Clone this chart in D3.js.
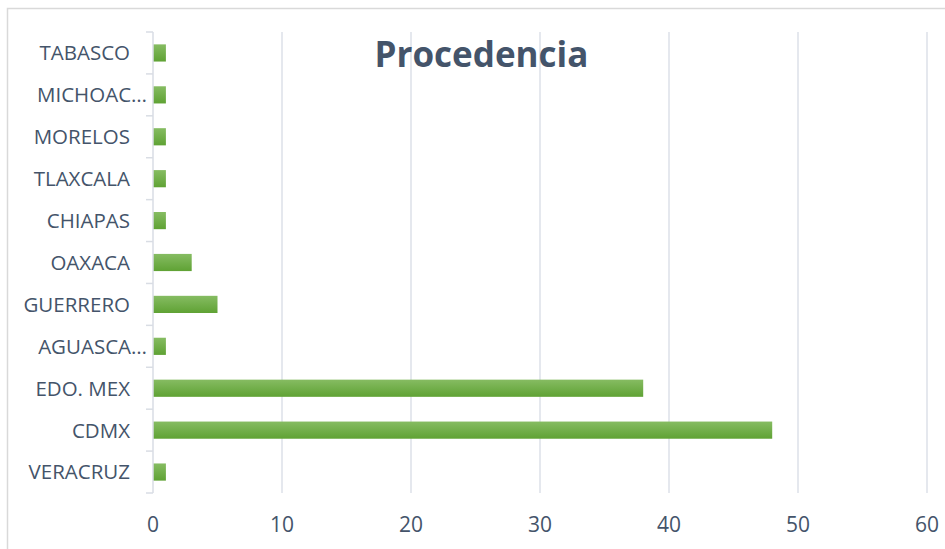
<!DOCTYPE html>
<html><head><meta charset="utf-8">
<script src="https://cdn.jsdelivr.net/npm/d3@7"></script>
<style>body{margin:0;background:#fff}svg{display:block}</style>
</head><body>
<svg id="c" width="945" height="549"></svg>
<script>
const categories = ["TABASCO","MICHOAC…","MORELOS","TLAXCALA","CHIAPAS","OAXACA","GUERRERO","AGUASCA…","EDO. MEX","CDMX","VERACRUZ"];
const values = [1,1,1,1,1,3,5,1,38,48,1];
const xTicks = [0,10,20,30,40,50,60];
const title = "Procedencia";

const svg = d3.select("#c");
const W = 945, H = 549;
const m = {l:153, r:945-927, t:32, b:549-493};
const textColor = "#44546a";
const font = "'Open Sans', sans-serif";

svg.append("rect").attr("x",7.5).attr("y",8.5).attr("width",W).attr("height",H)
  .attr("fill","#fff").attr("stroke","#d9d9d9").attr("stroke-width",1.5);

const defs = svg.append("defs");
const g = defs.append("linearGradient").attr("id","bg").attr("x1",0).attr("y1",0).attr("x2",0).attr("y2",1);
g.append("stop").attr("offset","0%").attr("stop-color","#86bc62");
g.append("stop").attr("offset","100%").attr("stop-color","#5fa234");

const x = d3.scaleLinear().domain([0,60]).range([m.l, W-m.r]);
const y = d3.scaleBand().domain(categories).range([m.t, H-m.b]).paddingInner(0.59).paddingOuter(0.295);

// gridlines
svg.append("g").selectAll("line").data(xTicks.filter(d=>d>0)).join("line")
  .attr("x1",d=>x(d)).attr("x2",d=>x(d)).attr("y1",m.t).attr("y2",H-m.b)
  .attr("stroke","#dde1e8").attr("stroke-width",1.5);

// bars
svg.append("g").selectAll("rect").data(categories).join("rect")
  .attr("x",x(0)).attr("y",d=>y(d)).attr("height",y.bandwidth())
  .attr("width",(d,i)=>x(values[i])-x(0)).attr("fill","url(#bg)");

// y axis line and ticks
const y0 = m.t, y1 = H-m.b;
const step = (y1-y0)/categories.length;
svg.append("line").attr("x1",x(0)).attr("x2",x(0)).attr("y1",y0).attr("y2",y1)
  .attr("stroke","#d9dde4").attr("stroke-width",1.5);
svg.append("g").selectAll("line").data(d3.range(categories.length+1)).join("line")
  .attr("x1",x(0)-7).attr("x2",x(0)).attr("y1",i=>y0+i*step).attr("y2",i=>y0+i*step)
  .attr("stroke","#d9dde4").attr("stroke-width",1.5);

// category labels
svg.append("g").selectAll("text").data(categories).join("text")
  .attr("x",d=>d.endsWith("…")?147:130)
  .attr("y",d=>y(d)+y.bandwidth()/2).attr("dy","0.36em")
  .attr("text-anchor","end").attr("fill",textColor)
  .attr("font-family",font).attr("font-size",20.5).text(d=>d);

// x tick labels
svg.append("g").selectAll("text").data(xTicks).join("text")
  .attr("x",d=>x(d)).attr("y",524).attr("dy","0.36em")
  .attr("text-anchor","middle").attr("fill",textColor)
  .attr("font-family",font).attr("font-size",21).text(d=>d);

// title
svg.append("text").attr("x",481.5).attr("y",67).attr("text-anchor","middle")
  .attr("fill",textColor).attr("font-family",font).attr("font-weight","bold")
  .attr("font-size",35).text(title);
</script>
</body></html>
